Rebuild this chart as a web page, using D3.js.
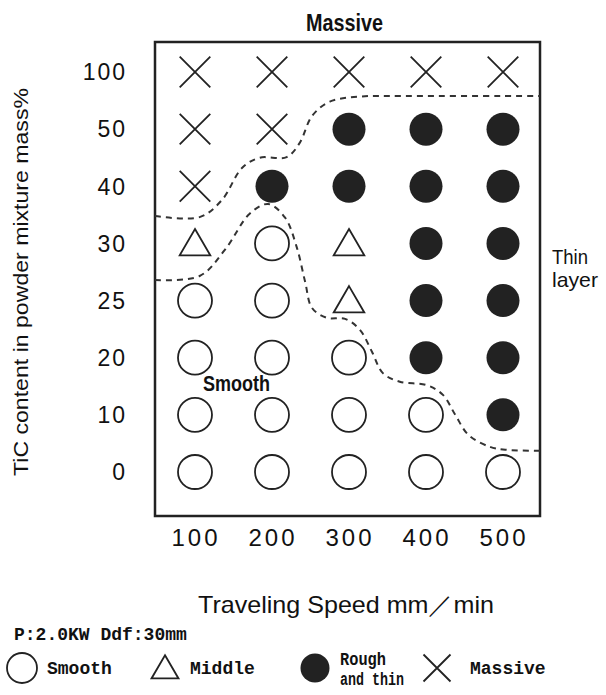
<!DOCTYPE html>
<html>
<head>
<meta charset="utf-8">
<script src="https://cdn.jsdelivr.net/npm/d3@7"></script>
<style>
  body { margin: 0; background: #fff; }
  .narrow { font-family: "Liberation Sans", sans-serif; fill: #111; }
  .mono { font-family: "Liberation Mono", "DejaVu Sans Mono", monospace; font-weight: bold; fill: #111; }
</style>
</head>
<body>
<div id="chart"></div>
<script>
// data
var speeds = [100, 200, 300, 400, 500];
var ticContent = [0, 10, 20, 25, 30, 40, 50, 100];
// one row per TiC content (same order), one letter per speed
// O = smooth, T = middle, F = rough and thin, X = massive
var results = [
  "OOOOO",
  "OOOOF",
  "OOOFF",
  "OOTFF",
  "TOTFF",
  "XFFFF",
  "XXFFF",
  "XXXXX"
];
// boundaries: [speed, row index]
var upperBoundary = [[48,4.48],[106,4.46],[135,4.76],[161,5.32],[184,5.5],[219,5.51],[236,5.76],[252,6.23],[275,6.48],[314,6.57],[366,6.58],[548,6.58]];
var lowerBoundary = [[48,3.36],[106,3.43],[139,3.89],[171,4.52],[195,4.69],[217,4.45],[232,3.94],[243,3.33],[252,2.87],[271,2.7],[295,2.68],[314,2.49],[330,2.1],[344,1.73],[366,1.58],[401,1.52],[422,1.35],[438,1.0],[455,0.65],[483,0.44],[503,0.39],[548,0.37]];
var legendItems = [
  {code: "O", label: ["Smooth"]},
  {code: "T", label: ["Middle"]},
  {code: "F", label: ["Rough", "and thin"]},
  {code: "X", label: ["Massive"]}
];

var W = 606, H = 695;
var frame = {left: 155, right: 540, top: 42, bottom: 516};

var svg = d3.select("#chart").append("svg")
  .attr("width", W)
  .attr("height", H);

var x = d3.scaleLinear().domain([100, 500]).range([195, 503]);
var y = d3.scaleLinear().domain([0, 7]).range([472, 72]);

// frame
svg.append("rect")
  .attr("x", frame.left).attr("y", frame.top)
  .attr("width", frame.right - frame.left)
  .attr("height", frame.bottom - frame.top)
  .attr("fill", "none").attr("stroke", "#222").attr("stroke-width", 2.5);

// boundaries
var line = d3.line()
  .x(function(d) { return x(d[0]); })
  .y(function(d) { return y(d[1]); })
  .curve(d3.curveCatmullRom);

[upperBoundary, lowerBoundary].forEach(function(b) {
  svg.append("path")
    .attr("d", line(b))
    .attr("fill", "none")
    .attr("stroke", "#333")
    .attr("stroke-width", 2)
    .attr("stroke-dasharray", "6,5");
});

function drawMarker(g, code, r) {
  if (code == "O") {
    g.append("circle").attr("r", r).attr("fill", "#fff").attr("stroke", "#222").attr("stroke-width", 1.8);
  } else if (code == "F") {
    g.append("circle").attr("r", r - 0.5).attr("fill", "#222");
  } else if (code == "T") {
    var h = r * 1.55;
    g.append("path")
      .attr("d", "M0," + (-h * 0.55) + "L" + (r * 0.9) + "," + (h * 0.45) + "L" + (-r * 0.9) + "," + (h * 0.45) + "Z")
      .attr("fill", "#fff").attr("stroke", "#222").attr("stroke-width", 1.8);
  } else {
    var s = r * 0.9;
    g.append("path")
      .attr("d", "M" + -s + "," + -s + "L" + s + "," + s + "M" + s + "," + -s + "L" + -s + "," + s)
      .attr("stroke", "#222").attr("stroke-width", 1.8);
  }
}

// markers
results.forEach(function(row, i) {
  speeds.forEach(function(sp, j) {
    var g = svg.append("g").attr("transform", "translate(" + x(sp) + "," + y(i) + ")");
    drawMarker(g, row[j], 17);
  });
});

// y tick labels
svg.append("g").selectAll("text")
  .data(ticContent)
  .enter().append("text")
  .attr("x", 127)
  .attr("y", function(d, i) { return y(i); })
  .attr("dy", "0.36em")
  .attr("text-anchor", "end")
  .style("font-family", "Liberation Sans, sans-serif")
  .style("font-size", "23px")
  .style("letter-spacing", "2px")
  .style("fill", "#111")
  .text(function(d) { return d; });

// x tick labels
svg.append("g").selectAll("text")
  .data(speeds)
  .enter().append("text")
  .attr("x", function(d) { return x(d) + 1; })
  .attr("y", 537)
  .attr("dy", "0.36em")
  .attr("text-anchor", "middle")
  .style("font-family", "Liberation Sans, sans-serif")
  .style("font-size", "24px")
  .style("letter-spacing", "3px")
  .style("fill", "#111")
  .text(function(d) { return d; });

// region labels
svg.append("text").attr("class", "narrow")
  .attr("x", 306).attr("y", 22).attr("dy", "0.36em")
  .attr("textLength", 77).attr("lengthAdjust", "spacingAndGlyphs")
  .style("font-size", "24px").style("font-weight", "bold")
  .text("Massive");

svg.append("text").attr("class", "narrow")
  .attr("x", 203).attr("y", 383).attr("dy", "0.36em")
  .attr("textLength", 67).attr("lengthAdjust", "spacingAndGlyphs")
  .style("font-size", "22px").style("font-weight", "bold")
  .text("Smooth");

svg.append("text").attr("class", "narrow")
  .attr("x", 552).attr("y", 256).attr("dy", "0.36em")
  .attr("textLength", 36).attr("lengthAdjust", "spacingAndGlyphs")
  .style("font-size", "21px")
  .text("Thin");
svg.append("text").attr("class", "narrow")
  .attr("x", 552).attr("y", 279).attr("dy", "0.36em")
  .attr("textLength", 46).attr("lengthAdjust", "spacingAndGlyphs")
  .style("font-size", "21px")
  .text("layer");

// axis titles
svg.append("text").attr("class", "narrow")
  .attr("transform", "translate(20,476) rotate(-90)")
  .attr("dy", "0.36em")
  .attr("textLength", 388).attr("lengthAdjust", "spacingAndGlyphs")
  .style("font-size", "21px")
  .text("TiC content in powder mixture mass%");

svg.append("text").attr("class", "narrow")
  .attr("x", 198).attr("y", 604).attr("dy", "0.36em")
  .attr("textLength", 296).attr("lengthAdjust", "spacingAndGlyphs")
  .style("font-size", "24px")
  .text("Traveling Speed mm／min");

// legend
svg.append("text").attr("class", "mono")
  .attr("x", 14).attr("y", 634).attr("dy", "0.36em")
  .style("font-size", "18px")
  .text("P:2.0KW Ddf:30mm");

var legendX = [22, 165, 315, 437];
legendItems.forEach(function(d, i) {
  var g = svg.append("g").attr("transform", "translate(" + legendX[i] + ",668)");
  drawMarker(g, d.code, 15);
  var t = g.append("text").attr("class", "mono")
    .attr("x", d.code == "X" ? 33 : 25)
    .style("font-size", "18px");
  if (d.label.length == 1) {
    t.attr("dy", "0.36em").text(d.label[0]);
  } else {
    t.append("tspan").attr("x", 25).attr("y", -9).attr("dy", "0.36em")
      .attr("textLength", 46).attr("lengthAdjust", "spacingAndGlyphs").text(d.label[0]);
    t.append("tspan").attr("x", 25).attr("y", 11).attr("dy", "0.36em")
      .attr("textLength", 64).attr("lengthAdjust", "spacingAndGlyphs").text(d.label[1]);
  }
});
</script>
</body>
</html>
